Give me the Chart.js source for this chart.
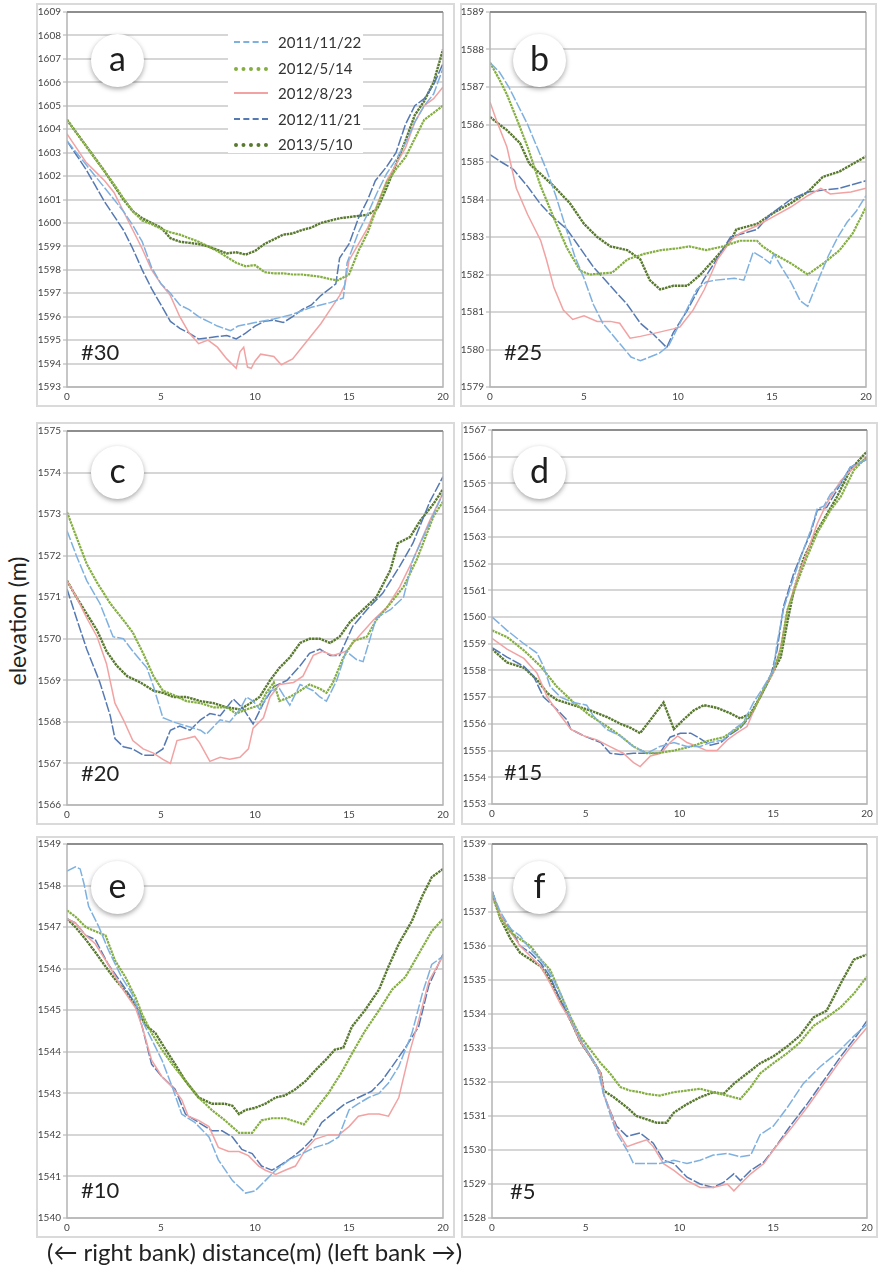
<!DOCTYPE html>
<html>
<head>
<meta charset="utf-8">
<script src="https://cdn.jsdelivr.net/npm/chart.js@4.4.0/dist/chart.umd.min.js"></script>
<style>
  body { margin: 0; background: #fff; width: 878px; height: 1266px; position: relative; overflow: hidden; font-family: Lato, 'Open Sans', sans-serif; color: #222; }
  .frame { position: absolute; border: 2px solid #dadada; box-sizing: border-box; }
  canvas { position: absolute; }
  .badge { position: absolute; width: 53px; height: 53px; margin: -26px 0 0 -26px; border-radius: 50%; background: #fff;
           box-shadow: 0 2px 5px rgba(0,0,0,0.35); text-align: center; font-size: 34px; line-height: 48px; color: #1e1e1e; }
  .sec { position: absolute; font-size: 22px; line-height: 24px; color: #222; }
  #legend { position: absolute; left: 228px; top: 33px; width: 135px; height: 120px; background: #fff; }
  .row { position: absolute; left: 0; height: 20px; width: 135px; }
  .row span.s { position: absolute; left: 6px; top: 9px; width: 34px; height: 0; }
  .row span.t { position: absolute; left: 50px; top: 0; font-size: 15px; line-height: 20px; color: #333; }
  #ytitle { position: absolute; left: 17px; top: 621px; transform: translate(-50%, -50%) rotate(-90deg); font-size: 23px; white-space: nowrap; }
  #xtitle { position: absolute; left: 47px; top: 1237px; font-size: 24px; line-height: 30px; white-space: nowrap; }
</style>
</head>
<body>
<div class="frame" style="left:36px;top:3px;width:419px;height:404px"></div>
<div class="frame" style="left:460px;top:3px;width:417px;height:404px"></div>
<div class="frame" style="left:36px;top:422px;width:419px;height:403px"></div>
<div class="frame" style="left:461px;top:422px;width:417px;height:403px"></div>
<div class="frame" style="left:36px;top:836px;width:419px;height:402px"></div>
<div class="frame" style="left:461px;top:836px;width:417px;height:402px"></div>

<canvas id="ca" width="419" height="404" style="left:36px;top:3px"></canvas>
<canvas id="cb" width="417" height="404" style="left:460px;top:3px"></canvas>
<canvas id="cc" width="419" height="403" style="left:36px;top:422px"></canvas>
<canvas id="cd" width="417" height="403" style="left:461px;top:422px"></canvas>
<canvas id="ce" width="419" height="402" style="left:36px;top:836px"></canvas>
<canvas id="cf" width="417" height="402" style="left:461px;top:836px"></canvas>

<div class="badge" style="left:117px;top:60px">a</div>
<div class="badge" style="left:539px;top:60px">b</div>
<div class="badge" style="left:117px;top:472px">c</div>
<div class="badge" style="left:539px;top:472px">d</div>
<div class="badge" style="left:117px;top:887px">e</div>
<div class="badge" style="left:539px;top:887px">f</div>

<div class="sec" style="left:81px;top:340px">#30</div>
<div class="sec" style="left:504px;top:340px">#25</div>
<div class="sec" style="left:81px;top:761px">#20</div>
<div class="sec" style="left:504px;top:760px">#15</div>
<div class="sec" style="left:81px;top:1178px">#10</div>
<div class="sec" style="left:510px;top:1179px">#5</div>

<div id="legend"></div>
<div id="ytitle">elevation (m)</div>
<div id="xtitle">(← right bank) distance(m) (left bank →)</div>

<script>
// survey dates and line styles
const dates = ['2011/11/22', '2012/5/14', '2012/8/23', '2012/11/21', '2013/5/10'];
const colors = ['#7eb0e0', '#84ae40', '#f2a2a2', '#5479b3', '#58792e'];
const widths = [1.5, 2.2, 1.5, 1.5, 2.4];
const dashes = [[10, 2], [2.5, 0.8], [], [10, 2], [2.5, 0.8]];
const legendCss = ['2px dashed', '4px dotted', '2px solid', '2px dashed', '4px dotted'];

const xTicks = [0, 5, 10, 15, 20];

// section #30 (a)
const a_20111122 = [[0,1603.5],[0.5,1603.0],[1,1602.5],[1.5,1602.0],[2,1601.5],[2.5,1601.0],[3,1600.5],[3.5,1599.9],[4,1599.2],[4.5,1598.1],[5,1597.4],[5.5,1597.0],[6,1596.5],[6.5,1596.3],[7,1596.0],[7.5,1595.8],[8,1595.6],[8.7,1595.4],[9.1,1595.6],[10,1595.75],[11,1595.9],[12,1596.1],[13,1596.4],[14,1596.6],[14.7,1596.8],[14.9,1598.3],[15.5,1599.6],[16,1600.4],[16.5,1601.3],[17,1602.1],[17.5,1602.7],[18,1603.4],[18.5,1604.3],[19,1605.0],[19.5,1605.5],[20,1606.6]];
const a_20120514 = [[0,1604.4],[0.5,1603.85],[1,1603.3],[1.5,1602.75],[2,1602.2],[2.5,1601.65],[3,1601.05],[3.5,1600.5],[4,1600.1],[4.5,1599.95],[5,1599.75],[5.5,1599.6],[6,1599.5],[6.5,1599.35],[7,1599.2],[7.5,1599.0],[8,1598.8],[8.5,1598.55],[9,1598.3],[9.5,1598.15],[10,1598.2],[10.5,1597.9],[11,1597.85],[11.5,1597.85],[12,1597.8],[12.5,1597.8],[13,1597.75],[13.5,1597.7],[14,1597.6],[14.4,1597.55],[15,1597.8],[15.5,1598.8],[16,1599.6],[16.5,1600.7],[17,1601.7],[17.5,1602.3],[18,1602.8],[18.5,1603.6],[19,1604.4],[19.5,1604.7],[20,1605.0]];
const a_20120823 = [[0,1603.8],[0.5,1603.2],[1,1602.6],[1.5,1602.2],[2,1601.8],[2.5,1601.3],[3,1600.5],[3.5,1599.7],[4,1598.9],[4.5,1598.0],[5,1597.4],[5.5,1596.9],[6,1596.0],[6.5,1595.3],[7,1594.85],[7.5,1595.0],[8,1594.7],[8.5,1594.2],[9,1593.8],[9.2,1594.5],[9.4,1594.7],[9.6,1593.85],[9.8,1593.8],[10,1594.1],[10.3,1594.4],[11,1594.3],[11.4,1593.95],[12,1594.2],[12.5,1594.7],[13,1595.2],[13.5,1595.7],[14,1596.3],[14.5,1596.9],[14.8,1597.4],[15,1598.4],[15.5,1599.1],[16,1599.8],[16.5,1600.8],[17,1601.8],[17.5,1602.5],[18,1603.2],[18.5,1604.3],[19,1605.0],[19.5,1605.3],[20,1605.8]];
const a_20121121 = [[0,1603.5],[0.5,1602.9],[1,1602.3],[1.5,1601.6],[2,1600.9],[2.5,1600.3],[3,1599.7],[3.5,1598.9],[4,1598.0],[4.5,1597.2],[5,1596.5],[5.5,1595.8],[6,1595.5],[6.5,1595.3],[7,1595.05],[7.5,1595.1],[8,1595.15],[8.5,1595.2],[9,1595.05],[9.5,1595.3],[10,1595.6],[10.5,1595.8],[11,1595.85],[11.5,1595.75],[12,1596.0],[12.5,1596.3],[13,1596.5],[13.5,1596.9],[14.3,1597.4],[14.5,1598.5],[15,1599.1],[15.5,1600.2],[16,1601.0],[16.4,1601.8],[17,1602.4],[17.5,1603.0],[18,1604.2],[18.5,1605.0],[19,1605.3],[19.5,1605.9],[20,1606.8]];
const a_20130510 = [[0,1604.4],[0.5,1603.85],[1,1603.3],[1.5,1602.75],[2,1602.2],[2.5,1601.6],[3,1601.0],[3.5,1600.5],[4,1600.2],[4.5,1600.0],[5,1599.8],[5.5,1599.35],[6,1599.2],[6.5,1599.15],[7,1599.1],[7.5,1599.0],[8,1598.85],[8.5,1598.7],[9,1598.75],[9.5,1598.65],[10,1598.8],[10.5,1599.1],[11,1599.3],[11.5,1599.5],[12,1599.55],[12.5,1599.7],[13,1599.8],[13.5,1600.0],[14,1600.1],[14.5,1600.2],[15,1600.25],[15.5,1600.3],[16,1600.35],[16.5,1600.6],[17,1601.5],[17.5,1602.5],[18,1603.5],[18.5,1604.6],[19,1605.2],[19.5,1606.0],[20,1607.4]];

// section #25 (b)
const b_20111122 = [[0,1587.65],[0.5,1587.4],[1,1587.0],[1.5,1586.5],[2,1586.0],[2.5,1585.4],[3,1584.8],[3.5,1584.1],[4,1583.3],[4.5,1582.5],[5,1581.9],[5.5,1581.2],[6,1580.7],[6.5,1580.4],[7,1580.1],[7.5,1579.8],[8,1579.7],[8.5,1579.8],[9,1579.9],[9.5,1580.1],[10,1580.6],[10.5,1581.1],[11,1581.6],[11.5,1581.8],[12,1581.85],[13,1581.9],[13.5,1581.85],[14,1582.6],[14.5,1582.45],[14.9,1582.3],[15.1,1582.55],[15.5,1582.2],[16,1581.8],[16.5,1581.3],[16.9,1581.15],[17.5,1581.9],[18,1582.5],[18.5,1583.0],[19,1583.4],[19.5,1583.7],[20,1584.1]];
const b_20120514 = [[0,1587.65],[0.5,1587.2],[0.9,1586.8],[1.5,1586.05],[2,1585.4],[2.7,1584.35],[3.4,1583.5],[4.1,1582.7],[4.8,1582.1],[5.3,1582.0],[6.5,1582.05],[7.3,1582.4],[8.2,1582.55],[9.1,1582.65],[10,1582.7],[10.6,1582.75],[11.5,1582.65],[12.4,1582.75],[13.3,1582.9],[14.2,1582.9],[14.5,1582.75],[15.1,1582.55],[16,1582.3],[16.9,1582.0],[17.75,1582.3],[18.6,1582.65],[19.3,1583.1],[20,1583.8]];
const b_20120823 = [[0,1586.6],[0.35,1586.1],[0.9,1585.4],[1.4,1584.3],[2,1583.6],[2.7,1582.9],[3,1582.4],[3.4,1581.65],[3.9,1581.05],[4.4,1580.8],[5,1580.9],[5.7,1580.75],[6.4,1580.75],[6.9,1580.7],[7.45,1580.3],[8,1580.35],[8.9,1580.45],[9.75,1580.55],[10.1,1580.6],[10.8,1581.05],[11.4,1581.6],[12.1,1582.4],[12.8,1582.9],[13.3,1583.1],[14.2,1583.3],[15.1,1583.55],[16,1583.8],[16.9,1584.1],[17.6,1584.3],[18.1,1584.15],[19.2,1584.2],[20,1584.3]];
const b_20121121 = [[0,1585.2],[0.6,1585.0],[1.25,1584.8],[2,1584.35],[2.65,1583.9],[3.2,1583.6],[4.1,1583.2],[4.8,1582.7],[5.5,1582.2],[6.4,1581.7],[7.3,1581.2],[8,1580.7],[8.7,1580.4],[9.4,1580.05],[9.75,1580.45],[10.5,1581.05],[11.35,1581.85],[12.05,1582.4],[12.8,1583.0],[13.5,1583.1],[14.2,1583.2],[14.9,1583.6],[16,1584.0],[16.9,1584.2],[17.7,1584.25],[18.6,1584.3],[20,1584.5]];
const b_20130510 = [[0,1586.2],[0.5,1586.0],[0.9,1585.85],[1.6,1585.5],[2.1,1584.95],[2.65,1584.7],[3.4,1584.35],[4.25,1583.9],[5,1583.35],[5.7,1583.0],[6.4,1582.75],[7.3,1582.65],[8,1582.4],[8.5,1581.85],[9.05,1581.6],[9.75,1581.7],[10.5,1581.7],[11.2,1582.0],[12.1,1582.5],[12.8,1582.9],[13.1,1583.2],[14.2,1583.35],[15.1,1583.65],[16,1583.9],[16.9,1584.2],[17.7,1584.6],[18.6,1584.75],[20,1585.15]];

// section #20 (c)
const c_20111122 = [[0,1572.6],[0.5,1572.0],[1.05,1571.4],[1.75,1570.85],[2.45,1570.05],[3,1570.0],[3.5,1569.7],[4.25,1569.3],[4.6,1568.85],[5.1,1568.1],[5.65,1568.0],[6.35,1567.9],[7.1,1567.8],[7.4,1567.7],[8.15,1568.05],[8.65,1568.0],[9.2,1568.3],[9.55,1568.6],[9.9,1568.5],[10.25,1568.3],[10.8,1568.75],[11.3,1568.8],[11.85,1568.4],[12.4,1568.9],[13.1,1568.75],[13.45,1568.6],[13.8,1568.5],[14.35,1569.0],[14.85,1569.7],[15.4,1569.5],[15.75,1569.45],[16.45,1570.5],[17.2,1570.7],[17.9,1571.0],[18.4,1571.9],[19.1,1572.6],[20,1573.5]];
const c_20120514 = [[0,1573.05],[0.5,1572.45],[1.05,1571.8],[1.6,1571.35],[2.3,1570.85],[3,1570.45],[3.5,1570.15],[4.05,1569.65],[4.6,1569.1],[5.1,1568.75],[5.65,1568.65],[6.35,1568.5],[7.1,1568.45],[7.8,1568.35],[8.5,1568.35],[9,1568.2],[9.55,1568.3],[10.25,1568.4],[10.6,1568.7],[11,1568.95],[11.3,1568.5],[11.85,1568.6],[12.4,1568.75],[12.9,1568.9],[13.45,1568.8],[13.8,1568.7],[14.15,1568.95],[14.7,1569.55],[15.25,1569.95],[15.95,1570.05],[16.45,1570.45],[17.2,1570.85],[17.9,1571.25],[18.6,1571.9],[19.5,1572.95],[20,1573.3]];
const c_20120823 = [[0,1571.4],[0.5,1571.0],[1.05,1570.5],[1.6,1570.05],[2.1,1569.4],[2.55,1568.45],[3,1568.05],[3.5,1567.55],[4.05,1567.35],[4.6,1567.25],[5.1,1567.1],[5.5,1567.0],[5.85,1567.55],[6.35,1567.6],[6.8,1567.65],[7.05,1567.5],[7.6,1567.05],[8.15,1567.15],[8.65,1567.1],[9.2,1567.15],[9.65,1567.35],[9.9,1567.85],[10.45,1568.1],[10.8,1568.6],[11.3,1568.9],[12.05,1568.95],[12.55,1569.1],[13.1,1569.6],[13.6,1569.7],[14.15,1569.6],[14.85,1569.7],[15.6,1570.1],[16.3,1570.45],[17,1570.75],[17.7,1571.25],[18.4,1571.9],[19.3,1572.85],[20,1573.5]];
const c_20121121 = [[0,1571.2],[0.5,1570.5],[1.05,1569.75],[1.75,1568.95],[2.3,1568.15],[2.55,1567.6],[3,1567.4],[3.5,1567.35],[4.05,1567.2],[4.6,1567.2],[5.1,1567.35],[5.5,1567.8],[6,1567.9],[6.55,1567.8],[7.1,1568.05],[7.6,1568.2],[8.15,1568.15],[8.85,1568.55],[9.4,1568.3],[9.9,1567.95],[10.45,1568.45],[11,1568.85],[11.7,1569.0],[12.4,1569.35],[12.9,1569.65],[13.45,1569.75],[14,1569.6],[14.5,1569.6],[15.2,1570.3],[15.95,1570.7],[16.8,1571.1],[17.7,1571.75],[18.4,1572.3],[19.3,1573.3],[20,1573.9]];
const c_20130510 = [[0,1571.4],[0.5,1571.0],[1.05,1570.6],[1.6,1570.2],[2.1,1569.7],[2.65,1569.35],[3.2,1569.1],[3.9,1568.95],[4.6,1568.75],[5.1,1568.7],[5.65,1568.6],[6.35,1568.6],[7.1,1568.5],[7.8,1568.45],[8.5,1568.35],[9.2,1568.3],[9.75,1568.45],[10.25,1568.6],[10.8,1569.0],[11.3,1569.3],[11.85,1569.55],[12.4,1569.9],[12.9,1570.0],[13.45,1570.0],[14,1569.9],[14.5,1570.05],[15.05,1570.4],[15.75,1570.7],[16.45,1571.0],[17.2,1571.65],[17.6,1572.3],[18.25,1572.45],[18.8,1572.85],[19.5,1573.25],[20,1573.6]];

// section #15 (d)
const d_20111122 = [[0,1560.0],[0.8,1559.5],[1.7,1559.0],[2.4,1558.65],[2.75,1558.15],[3.1,1557.4],[3.65,1557.0],[4.35,1556.8],[5.05,1556.7],[5.4,1556.3],[6.1,1555.8],[6.85,1555.55],[7.55,1555.15],[8.25,1554.9],[8.95,1555.15],[9.7,1555.3],[10.4,1555.15],[11.1,1555.15],[11.65,1555.3],[12.35,1555.4],[12.9,1555.8],[13.4,1556.05],[13.95,1556.8],[14.5,1557.4],[15,1558.0],[15.2,1559.0],[15.55,1560.3],[16.1,1561.5],[16.6,1562.5],[17,1563.25],[17.35,1564.05],[17.7,1564.15],[18.05,1564.6],[18.6,1565.0],[19.1,1565.6],[20,1565.9]];
const d_20120514 = [[0,1559.5],[0.8,1559.25],[1.7,1558.75],[2.6,1558.15],[3.45,1557.4],[4.35,1556.8],[5.25,1556.3],[6.15,1555.9],[6.85,1555.55],[7.55,1555.15],[8.25,1554.9],[8.8,1554.9],[9.7,1555.0],[10.6,1555.15],[11.45,1555.35],[12.35,1555.5],[13.25,1555.9],[13.95,1556.5],[14.5,1557.3],[15,1558.0],[15.4,1558.75],[15.75,1560.25],[16.25,1561.25],[16.8,1562.25],[17.35,1563.15],[18.05,1564.0],[18.6,1564.5],[19.3,1565.5],[20,1566.0]];
const d_20120823 = [[0,1559.2],[0.8,1558.8],[1.7,1558.45],[2.4,1557.9],[2.95,1557.0],[3.45,1556.5],[4.2,1555.8],[4.9,1555.55],[5.6,1555.4],[6.3,1555.15],[7,1554.9],[7.55,1554.55],[7.9,1554.4],[8.45,1554.8],[9,1554.9],[9.5,1555.3],[9.9,1555.55],[10.4,1555.3],[10.95,1555.15],[11.45,1555.0],[12,1555.0],[12.55,1555.4],[13.05,1555.65],[13.6,1555.9],[14.15,1556.8],[14.65,1557.5],[15,1557.9],[15.4,1558.9],[15.75,1560.25],[16.25,1561.4],[16.8,1562.4],[17.35,1563.5],[17.85,1564.25],[18.6,1565.1],[19.3,1565.6],[20,1566.0]];
const d_20121121 = [[0,1558.85],[0.8,1558.5],[1.7,1558.15],[2.2,1557.8],[2.75,1557.0],[3.3,1556.65],[4,1556.15],[4.2,1555.8],[4.9,1555.55],[5.8,1555.3],[6.3,1554.9],[6.85,1554.85],[7.55,1554.9],[8.25,1554.9],[8.95,1554.9],[9.5,1555.5],[10.05,1555.65],[10.6,1555.65],[11.1,1555.45],[11.65,1555.2],[12.2,1555.3],[12.7,1555.6],[13.25,1555.85],[13.8,1556.3],[14.3,1557.0],[14.85,1557.75],[15.2,1558.75],[15.55,1560.4],[16.1,1561.65],[16.6,1562.5],[17,1563.15],[17.35,1564.0],[17.85,1564.1],[18.4,1564.75],[19.1,1565.6],[20,1565.9]];
const d_20130510 = [[0,1558.8],[0.8,1558.3],[1.7,1558.1],[2.4,1557.65],[2.95,1557.15],[3.45,1556.9],[4.35,1556.7],[5.25,1556.5],[6.15,1556.25],[6.85,1556.0],[7.4,1555.85],[7.9,1555.65],[8.45,1556.15],[9.15,1556.8],[9.7,1555.8],[10.2,1556.15],[10.75,1556.5],[11.3,1556.7],[12,1556.6],[12.7,1556.4],[13.25,1556.2],[13.8,1556.4],[14.3,1557.0],[14.85,1557.75],[15.4,1558.5],[15.75,1559.8],[16.1,1561.0],[16.6,1562.15],[17.2,1563.05],[17.7,1563.65],[18.4,1564.5],[19.1,1565.5],[20,1566.2]];

// section #10 (e)
const e_20111122 = [[0,1548.35],[0.45,1548.45],[0.7,1548.4],[0.9,1548.05],[1.15,1547.5],[1.7,1547.0],[2.2,1546.45],[2.9,1545.8],[3.45,1545.4],[4,1544.75],[4.5,1544.3],[5.05,1543.8],[5.6,1543.15],[6.1,1542.5],[6.8,1542.3],[7.55,1541.95],[8.05,1541.4],[8.8,1540.9],[9.5,1540.6],[10,1540.65],[10.55,1540.9],[11.1,1541.15],[11.8,1541.4],[12.5,1541.55],[13.2,1541.7],[13.9,1541.8],[14.45,1541.95],[15,1542.6],[15.5,1542.75],[16.05,1542.9],[16.6,1543.0],[17.1,1543.25],[17.65,1543.65],[18.35,1544.45],[18.9,1545.4],[19.4,1546.1],[20,1546.3]];
const e_20120514 = [[0,1547.4],[0.45,1547.25],[1,1547.0],[1.5,1546.9],[2.05,1546.8],[2.55,1546.2],[3.1,1545.8],[3.65,1545.3],[4,1544.9],[4.5,1544.45],[5.05,1544.05],[5.6,1543.7],[6.3,1543.3],[7,1542.9],[7.7,1542.6],[8.4,1542.35],[9.15,1542.05],[9.85,1542.05],[10.35,1542.35],[10.9,1542.4],[11.6,1542.4],[12.3,1542.3],[12.6,1542.25],[13.2,1542.6],[13.9,1543.0],[14.6,1543.5],[15.15,1543.95],[15.85,1544.5],[16.6,1545.0],[17.3,1545.5],[18,1545.8],[18.7,1546.35],[19.4,1546.9],[20,1547.2]];
const e_20120823 = [[0,1547.2],[0.45,1547.1],[1,1546.8],[1.5,1546.6],[2.2,1546.1],[2.9,1545.55],[3.65,1545.05],[4,1544.6],[4.5,1543.8],[5.05,1543.4],[5.6,1543.15],[6.1,1542.85],[6.45,1542.45],[7,1542.35],[7.55,1542.2],[8.05,1541.7],[8.6,1541.6],[9.15,1541.6],[9.65,1541.5],[10.2,1541.25],[10.55,1541.15],[11.1,1541.05],[11.6,1541.15],[12.15,1541.25],[12.7,1541.65],[13.2,1541.9],[13.9,1542.0],[14.45,1542.0],[15,1542.2],[15.5,1542.45],[16.05,1542.5],[16.6,1542.5],[17.1,1542.45],[17.65,1542.9],[18.2,1543.95],[18.7,1544.75],[19.25,1545.7],[20,1546.3]];
const e_20121121 = [[0,1547.2],[0.45,1547.1],[1,1546.8],[1.5,1546.7],[2.2,1546.1],[2.9,1545.65],[3.65,1545.15],[4,1544.6],[4.5,1543.7],[5.05,1543.4],[5.75,1543.1],[6.3,1542.5],[7,1542.3],[7.7,1542.1],[8.25,1542.1],[8.8,1541.95],[9.3,1541.65],[9.85,1541.55],[10.35,1541.25],[10.9,1541.15],[11.45,1541.3],[11.95,1541.45],[12.5,1541.65],[13.05,1541.9],[13.55,1542.3],[14.1,1542.5],[14.8,1542.75],[15.5,1542.9],[16.2,1543.05],[16.75,1543.3],[17.3,1543.65],[18,1544.1],[18.7,1544.6],[19.25,1545.6],[20,1546.35]];
const e_20130510 = [[0,1547.2],[0.45,1547.0],[1,1546.7],[1.5,1546.4],[2.05,1546.05],[2.55,1545.75],[3.3,1545.35],[3.8,1545.0],[4.15,1544.65],[4.7,1544.45],[5.25,1544.05],[5.75,1543.7],[6.3,1543.3],[7,1542.9],[7.7,1542.75],[8.4,1542.75],[8.8,1542.7],[9.15,1542.5],[9.5,1542.6],[10,1542.65],[10.55,1542.75],[11.1,1542.9],[11.6,1542.95],[12.15,1543.1],[12.7,1543.3],[13.2,1543.55],[13.75,1543.8],[14.25,1544.05],[14.7,1544.1],[15.15,1544.6],[15.85,1545.0],[16.6,1545.5],[17.1,1546.05],[17.65,1546.6],[18.35,1547.15],[18.9,1547.75],[19.4,1548.2],[20,1548.4]];

// section #5 (f)
const f_20111122 = [[0,1537.6],[0.45,1537.0],[1,1536.5],[1.5,1536.3],[2.05,1535.9],[2.6,1535.6],[3.1,1535.2],[3.65,1534.6],[4,1534.1],[4.55,1533.45],[5.05,1532.95],[5.6,1532.45],[5.95,1531.65],[6.3,1531.05],[6.65,1530.5],[7.2,1530.0],[7.55,1529.6],[8.25,1529.6],[8.95,1529.6],[9.7,1529.7],[10.4,1529.6],[11.1,1529.7],[11.8,1529.85],[12.55,1529.9],[13.25,1529.8],[13.8,1529.85],[14.3,1530.45],[15,1530.7],[15.75,1531.25],[16.6,1531.95],[17.5,1532.45],[18.4,1532.85],[19.3,1533.35],[20,1533.7]];
const f_20120514 = [[0,1537.5],[0.45,1536.8],[1,1536.4],[1.5,1536.2],[2.05,1536.0],[2.6,1535.6],[3.1,1535.3],[3.65,1534.6],[4.2,1533.9],[4.7,1533.35],[5.25,1532.95],[5.8,1532.55],[6.3,1532.25],[6.85,1531.85],[7.35,1531.75],[7.9,1531.7],[8.25,1531.65],[8.95,1531.6],[9.7,1531.7],[10.4,1531.75],[11.1,1531.8],[11.8,1531.7],[12.55,1531.6],[13.25,1531.5],[13.8,1531.85],[14.3,1532.25],[15,1532.55],[15.75,1532.85],[16.4,1533.15],[17.15,1533.65],[17.85,1533.9],[18.6,1534.2],[19.3,1534.6],[20,1535.1]];
const f_20120823 = [[0,1537.5],[0.45,1536.9],[1,1536.4],[1.5,1536.0],[2.05,1535.7],[2.6,1535.4],[3.1,1534.9],[3.65,1534.3],[4.2,1533.8],[4.7,1533.2],[5.25,1532.75],[5.8,1532.25],[5.95,1531.65],[6.3,1531.15],[6.65,1530.6],[7.2,1530.1],[7.7,1530.2],[8.25,1530.3],[8.6,1530.1],[9.15,1529.6],[9.7,1529.4],[10.4,1529.1],[11.1,1528.9],[11.8,1528.9],[12.55,1529.0],[12.9,1528.8],[13.25,1529.0],[13.8,1529.3],[14.5,1529.6],[15,1530.0],[15.9,1530.6],[16.8,1531.25],[17.7,1531.95],[18.6,1532.65],[19.3,1533.15],[20,1533.6]];
const f_20121121 = [[0,1537.6],[0.45,1536.9],[1,1536.5],[1.5,1536.0],[2.05,1535.8],[2.6,1535.5],[3.1,1535.1],[3.65,1534.4],[4.2,1533.8],[4.7,1533.2],[5.25,1532.75],[5.8,1532.25],[5.95,1531.65],[6.3,1531.15],[6.65,1530.7],[7.2,1530.4],[7.9,1530.5],[8.6,1530.2],[9.15,1529.7],[9.7,1529.6],[10.4,1529.2],[11.1,1529.0],[11.8,1528.9],[12.35,1529.05],[12.9,1529.3],[13.25,1529.1],[13.8,1529.4],[14.5,1529.65],[15,1530.0],[15.9,1530.7],[16.8,1531.35],[17.7,1532.05],[18.6,1532.75],[19.3,1533.25],[20,1533.8]];
const f_20130510 = [[0,1537.6],[0.45,1536.8],[1,1536.2],[1.5,1535.8],[2.05,1535.6],[2.6,1535.4],[3.1,1535.0],[3.65,1534.4],[4.2,1533.8],[4.7,1533.2],[5.25,1532.75],[5.8,1532.25],[5.95,1531.75],[6.5,1531.55],[7.2,1531.25],[7.7,1531.0],[8.25,1530.9],[8.8,1530.8],[9.3,1530.8],[9.7,1531.1],[10.4,1531.35],[11.1,1531.55],[11.8,1531.7],[12.35,1531.65],[12.9,1531.95],[13.6,1532.25],[14.3,1532.55],[15,1532.75],[15.75,1533.05],[16.4,1533.35],[17.15,1533.9],[17.85,1534.1],[18.6,1534.9],[19.3,1535.6],[20,1535.75]];

// outline of the plot area (top edge is darker, as in the original)
const plotFrame = {
    id: 'plotFrame',
    afterDraw(chart) {
        const {ctx, chartArea: c} = chart;
        ctx.save();
        ctx.strokeStyle = '#b4b4b4';
        ctx.lineWidth = 1.5;
        ctx.beginPath();
        ctx.moveTo(c.left, c.top);
        ctx.lineTo(c.left, c.bottom);
        ctx.lineTo(c.right, c.bottom);
        ctx.lineTo(c.right, c.top);
        ctx.stroke();
        ctx.strokeStyle = '#8e8e8e';
        ctx.lineWidth = 2;
        ctx.beginPath();
        ctx.moveTo(c.left, c.top);
        ctx.lineTo(c.right, c.top);
        ctx.stroke();
        ctx.restore();
    }
};

function drawPanel(id, series, yMin, yMax, box) {
    new Chart(document.getElementById(id), {
        type: 'line',
        data: {
            datasets: series.map((pts, i) => ({
                label: dates[i],
                data: pts.map(p => ({x: p[0], y: p[1]})),
                borderColor: colors[i],
                borderWidth: widths[i],
                borderDash: dashes[i],
                pointRadius: 0,
                tension: 0,
                fill: false
            }))
        },
        options: {
            responsive: false,
            animation: false,
            devicePixelRatio: 1,
            layout: {padding: {left: 0, top: box.top, right: box.right, bottom: 0}},
            plugins: {legend: {display: false}, tooltip: {enabled: false}},
            scales: {
                x: {
                    type: 'linear', min: 0, max: 20,
                    afterBuildTicks: s => { s.ticks = xTicks.map(v => ({value: v})); },
                    afterFit: s => { s.height = box.axisH; },
                    grid: {display: false, drawTicks: false},
                    border: {display: false},
                    ticks: {padding: 4, color: '#444', font: {family: 'Lato', size: 10}, maxRotation: 0,
                            callback: v => String(v)}
                },
                y: {
                    min: yMin, max: yMax,
                    afterFit: s => { s.width = box.axisW; },
                    grid: {color: '#d6d6d6', lineWidth: 2, tickLength: 4},
                    border: {display: false},
                    ticks: {stepSize: 1, autoSkip: false, padding: 2, color: '#444', font: {family: 'Lato', size: 10},
                            callback: v => String(v)}
                }
            }
        },
        plugins: [plotFrame]
    });
}

drawPanel('ca', [a_20111122, a_20120514, a_20120823, a_20121121, a_20130510], 1593, 1609, {top: 9, right: 12, axisW: 31, axisH: 20});
drawPanel('cb', [b_20111122, b_20120514, b_20120823, b_20121121, b_20130510], 1579, 1589, {top: 9, right: 11, axisW: 30, axisH: 20});
drawPanel('cc', [c_20111122, c_20120514, c_20120823, c_20121121, c_20130510], 1566, 1575, {top: 9, right: 12, axisW: 31, axisH: 20});
drawPanel('cd', [d_20111122, d_20120514, d_20120823, d_20121121, d_20130510], 1553, 1567, {top: 8, right: 11, axisW: 31, axisH: 21});
drawPanel('ce', [e_20111122, e_20120514, e_20120823, e_20121121, e_20130510], 1540, 1549, {top: 8, right: 12, axisW: 31, axisH: 20});
drawPanel('cf', [f_20111122, f_20120514, f_20120823, f_20121121, f_20130510], 1528, 1539, {top: 8, right: 11, axisW: 31, axisH: 20});

// legend of panel a
const legend = document.getElementById('legend');
dates.forEach((d, i) => {
    const row = document.createElement('div');
    row.className = 'row';
    row.style.top = (i * 25.5 - 1) + 'px';
    row.innerHTML = '<span class="s" style="border-top:' + legendCss[i] + ' ' + colors[i] + '"></span><span class="t">' + d + '</span>';
    legend.appendChild(row);
});
</script>
</body>
</html>
